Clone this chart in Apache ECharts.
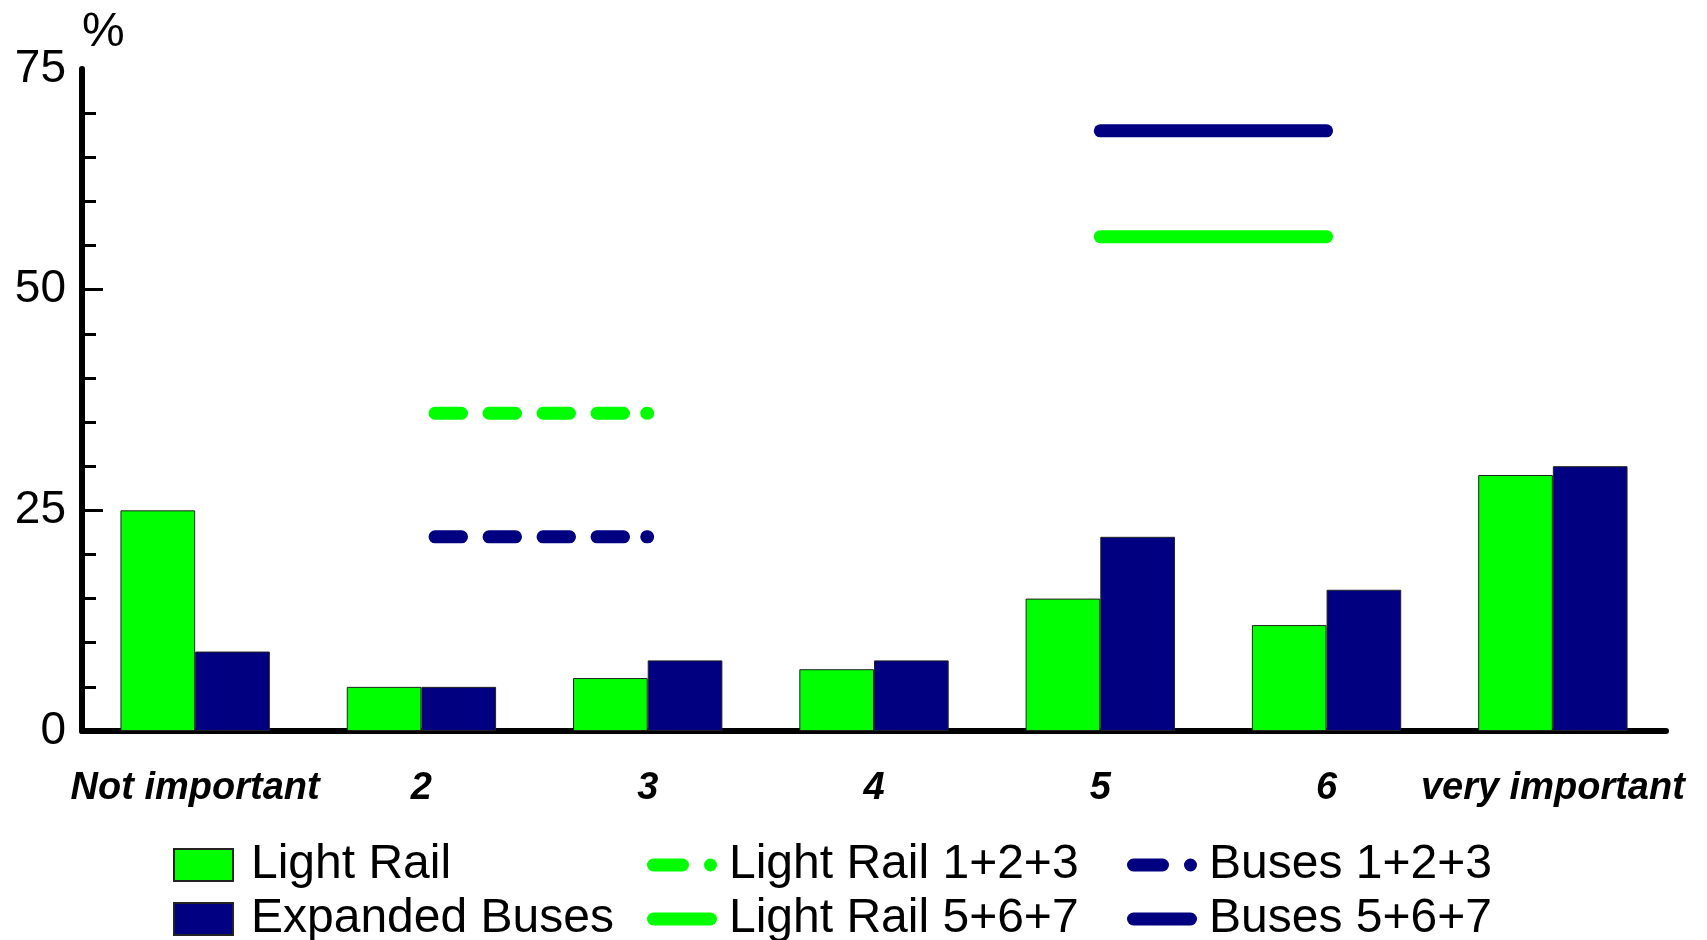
<!DOCTYPE html>
<html>
<head>
<meta charset="utf-8">
<script src="https://cdn.jsdelivr.net/npm/echarts@6/dist/echarts.min.js"></script>
<style>html,body{margin:0;padding:0;background:#fff}#c{width:1707px;height:940px}</style>
</head>
<body>
<div id="c"></div>
<script>
// ---- data ----
var categories = ['Not important', '2', '3', '4', '5', '6', 'very important'];
var lightRail = [25, 5, 6, 7, 15, 12, 29];
var expandedBuses = [9, 5, 8, 8, 22, 16, 30];
var lightRail123 = ['-', 36, 36, '-', '-', '-', '-'];
var buses123 = ['-', 22, 22, '-', '-', '-', '-'];
var lightRail567 = ['-', '-', '-', '-', 56, 56, '-'];
var buses567 = ['-', '-', '-', '-', 68, 68, '-'];
var yTicks = [0, 25, 50, 75];

var GREEN = '#00ff00', NAVY = '#000080';
var FONT = "'Liberation Sans', Arial, sans-serif";

// dash pattern: 4 dashes then a dot at the end of the segment
var dashPattern = [26.5, 27.5, 26.5, 27.5, 26.5, 27.5, 26.5, 23.2, 1, 2000];
var dashTotal = dashPattern.reduce(function (a, b) { return a + b; }, 0);
var dashOffset = dashTotal - 13.6;

var iconDashDot = 'path://M6.5,0 H35.5 A6.5,6.5 0 0 1 35.5,13 H6.5 A6.5,6.5 0 0 1 6.5,0 Z M63.5,0 A6.5,6.5 0 1 1 63.5,13 A6.5,6.5 0 1 1 63.5,0 Z';
var iconSolid = 'path://M6.5,0 H63.5 A6.5,6.5 0 0 1 63.5,13 H6.5 A6.5,6.5 0 0 1 6.5,0 Z';

var legendText = { fontSize: 48, color: '#000', fontFamily: FONT, lineHeight: 47 };

function legendBox(left, w, h, pad, data) {
  return {
    left: left, top: 841, height: 300, orient: 'vertical', padding: 0, itemGap: 6,
    itemWidth: w, itemHeight: h, selectedMode: false,
    textStyle: Object.assign({ padding: [0, 0, 0, pad] }, legendText),
    data: data
  };
}

var chart = echarts.init(document.getElementById('c'));
chart.setOption({
  animation: false,
  backgroundColor: '#fff',
  grid: { left: 82, right: 41, top: 69, bottom: 209, containLabel: false },
  xAxis: {
    type: 'category',
    data: categories,
    axisLine: { lineStyle: { color: '#000', width: 6, cap: 'round' } },
    axisTick: { show: false },
    axisLabel: {
      color: '#000', fontSize: 38, fontWeight: 'bold', fontStyle: 'italic',
      fontFamily: FONT, margin: 39, lineHeight: 38, interval: 0
    },
    splitLine: { show: false }
  },
  yAxis: {
    type: 'value',
    min: 0, max: 75, interval: 25,
    name: '%',
    nameLocation: 'end',
    nameGap: 12,
    nameTextStyle: { color: '#000', fontSize: 48, fontFamily: FONT, align: 'left', verticalAlign: 'bottom', lineHeight: 48 },
    axisLine: { show: true, lineStyle: { color: '#000', width: 6, cap: 'round' } },
    axisTick: { show: true, inside: true, length: 21, lineStyle: { color: '#000', width: 3 }, customValues: [25, 50] },
    minorTick: { show: true, splitNumber: 5, length: 14, lineStyle: { color: '#000', width: 3 } },
    axisLabel: {
      color: '#000', fontSize: 46, fontFamily: FONT, margin: 16, lineHeight: 46, padding: [5, 0, 0, 0],
      customValues: yTicks
    },
    splitLine: { show: false },
    minorSplitLine: { show: false }
  },
  legend: [
    legendBox(173, 59, 32, 13, [
      { name: 'Light Rail', icon: 'rect' },
      { name: 'Expanded Buses', icon: 'rect' }
    ]),
    legendBox(647, 70, 13, 7, [
      { name: 'Light Rail 1+2+3', icon: iconDashDot, itemStyle: { color: GREEN, borderWidth: 0 } },
      { name: 'Light Rail 5+6+7', icon: iconSolid, itemStyle: { color: GREEN, borderWidth: 0 } }
    ]),
    legendBox(1127, 70, 13, 7, [
      { name: 'Buses 1+2+3', icon: iconDashDot, itemStyle: { color: NAVY, borderWidth: 0 } },
      { name: 'Buses 5+6+7', icon: iconSolid, itemStyle: { color: NAVY, borderWidth: 0 } }
    ])
  ],
  series: [
    {
      name: 'Light Rail', type: 'bar', data: lightRail,
      barGap: '0%', barCategoryGap: '34%',
      itemStyle: { color: GREEN, borderColor: '#222', borderWidth: 1 }
    },
    {
      name: 'Expanded Buses', type: 'bar', data: expandedBuses,
      barGap: '0%', barCategoryGap: '34%',
      itemStyle: { color: NAVY, borderColor: '#222', borderWidth: 1 }
    },
    {
      name: 'Light Rail 1+2+3', type: 'line', data: lightRail123, symbol: 'none', z: 5,
      itemStyle: { color: GREEN },
      lineStyle: { color: GREEN, width: 13, cap: 'round', type: dashPattern, dashOffset: dashOffset }
    },
    {
      name: 'Buses 1+2+3', type: 'line', data: buses123, symbol: 'none', z: 5,
      itemStyle: { color: NAVY },
      lineStyle: { color: NAVY, width: 13, cap: 'round', type: dashPattern, dashOffset: dashOffset }
    },
    {
      name: 'Light Rail 5+6+7', type: 'line', data: lightRail567, symbol: 'none', z: 5,
      itemStyle: { color: GREEN },
      lineStyle: { color: GREEN, width: 13, cap: 'round' }
    },
    {
      name: 'Buses 5+6+7', type: 'line', data: buses567, symbol: 'none', z: 5,
      itemStyle: { color: NAVY },
      lineStyle: { color: NAVY, width: 13, cap: 'round' }
    }
  ]
});
</script>
</body>
</html>
